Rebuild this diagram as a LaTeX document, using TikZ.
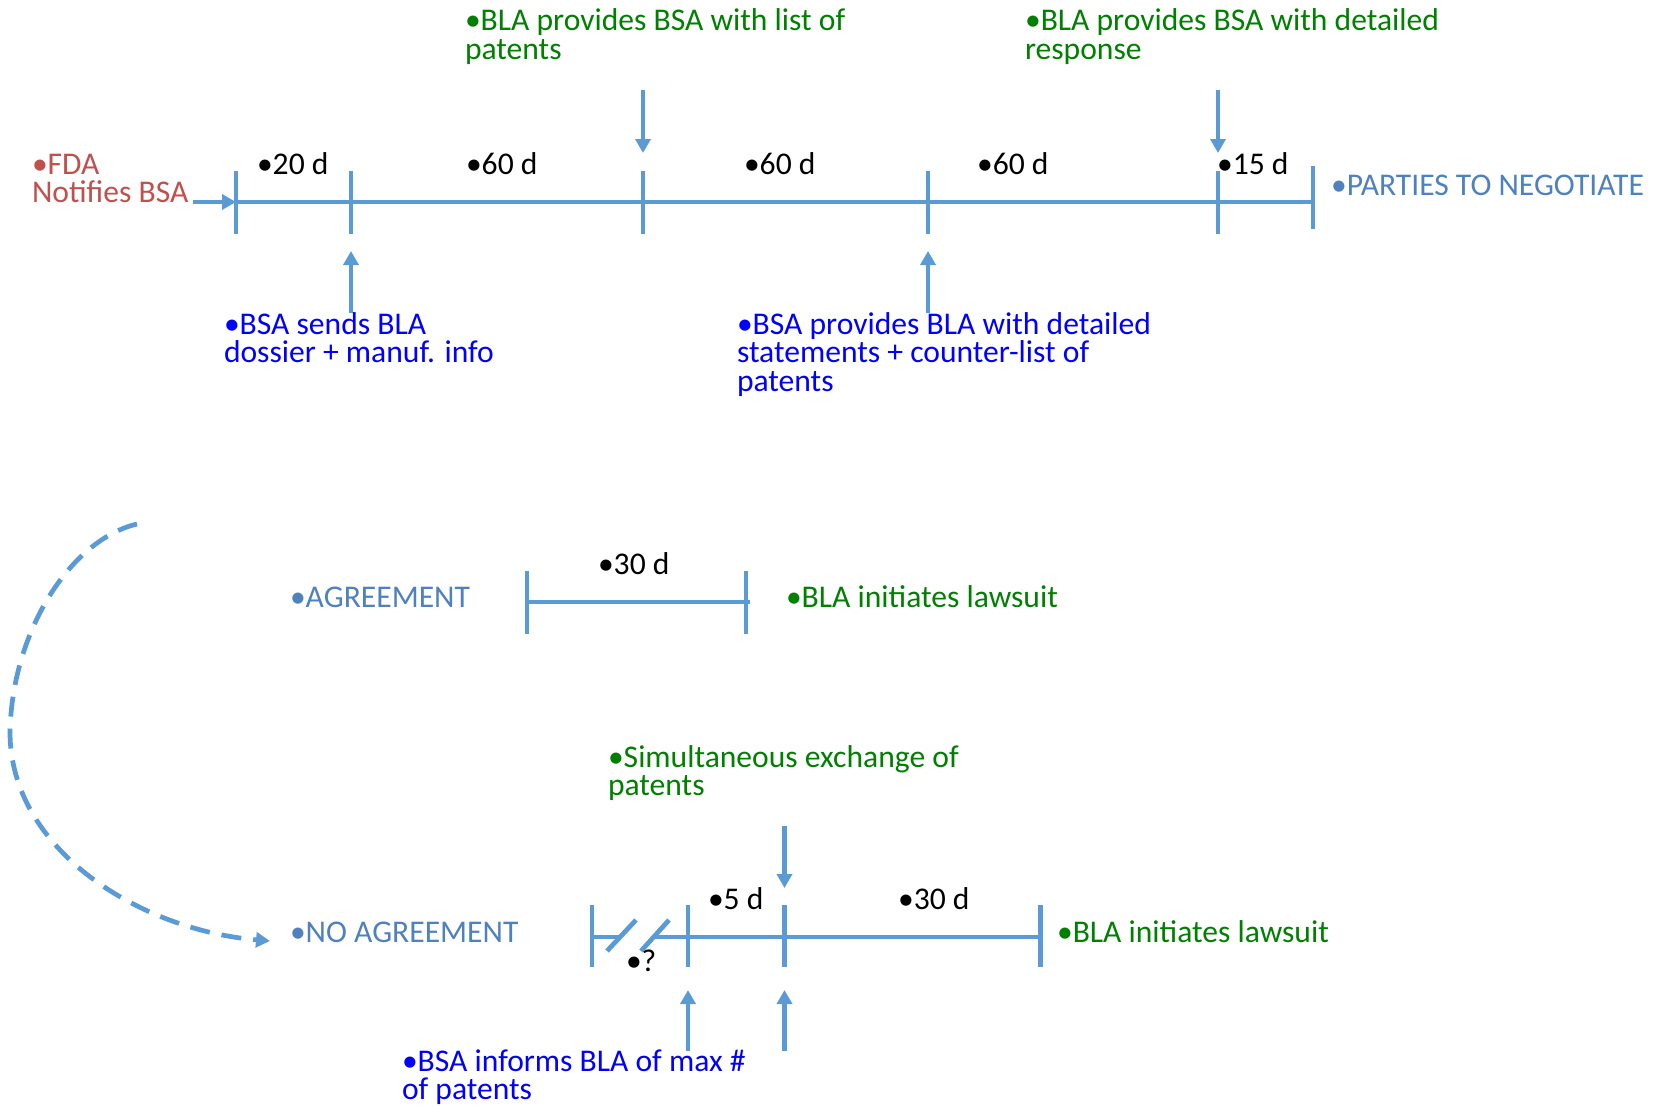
\documentclass[tikz,border=0pt]{standalone}
\usepackage{fontspec}
\setmainfont{Carlito}
\usetikzlibrary{arrows.meta}
\definecolor{lineblue}{HTML}{5B9BD5}
\definecolor{fdared}{HTML}{C0504D}
\definecolor{steel}{HTML}{4F81BD}
\definecolor{dgreen}{HTML}{008000}
\definecolor{pblue}{HTML}{0000FF}
\begin{document}
\begin{tikzpicture}[x=1pt,y=-1pt,
  tl/.style={draw=lineblue, line width=4.75pt},
  arr/.style={tl, -{Triangle[width=15pt,length=14pt]}},
  lbl/.style={anchor=base west, inner sep=0pt, outer sep=0pt, align=left,
    font=\fontsize{31.6}{28.6}\selectfont}]
\useasboundingbox (0,0) rectangle (1661,1105);

% ---------- main timeline ----------
\coordinate (fdaS) at (193,202);
\coordinate (t0) at (236,202);
\coordinate (t1) at (351,202);
\coordinate (t2) at (643,202);
\coordinate (t3) at (928,202);
\coordinate (t4) at (1218,202);
\coordinate (t5) at (1313,202);
\draw[tl] (t0) -- (t5);
\foreach \t in {t0,t1,t2,t3,t4}
  \draw[tl] ([yshift=31pt]\t) -- ([yshift=-32pt]\t);
\draw[tl] ([yshift=36pt]t5) -- ([yshift=-27pt]t5);
\draw[arr] (fdaS) -- (t0);

\coordinate (d1s) at (643,90);  \coordinate (d1e) at (643,153);
\coordinate (d2s) at (1218,90); \coordinate (d2e) at (1218,153);
\coordinate (u1s) at (351,313); \coordinate (u1e) at (351,251);
\coordinate (u2s) at (928,313); \coordinate (u2e) at (928,251);
\draw[arr] (d1s) -- (d1e);
\draw[arr] (d2s) -- (d2e);
\draw[arr] (u1s) -- (u1e);
\draw[arr] (u2s) -- (u2e);

% (base anchor of a multi-line node = baseline of its last line)
\node[lbl, text=fdared] (fda) at (32,202.6) {•FDA\\Notifies BSA};
\node[lbl] (d20) at (257,174) {•20 d};
\node[lbl] (d60a) at (466,174) {•60 d};
\node[lbl] (d60b) at (744,174) {•60 d};
\node[lbl] (d60c) at (977,174) {•60 d};
\node[lbl] (d15) at (1217,174) {•15 d};
\node[lbl, text=steel] (neg) at (1331,195) {•PARTIES TO NEGOTIATE};
\node[lbl, text=dgreen] (g1) at (465,59.6) {•BLA provides BSA with list of\\patents};
\node[lbl, text=dgreen] (g2) at (1025,59.6) {•BLA provides BSA with detailed\\response};
\node[lbl, text=pblue] (b1) at (224,362.6) {•BSA sends BLA\\dossier + manuf. info};
\node[lbl, text=pblue] (b2) at (737,391.2) {•BSA provides BLA with detailed\\statements + counter-list of\\patents};

% ---------- agreement ----------
\coordinate (a0) at (527,602);
\coordinate (a1) at (746,602);
\draw[tl] (a0) -- ([xshift=4pt]a1);
\draw[tl] ([yshift=31pt]a0) -- ([yshift=-32pt]a0);
\draw[tl] ([yshift=31pt]a1) -- ([yshift=-32pt]a1);
\node[lbl, text=steel] (agr) at (290,607) {•AGREEMENT};
\node[lbl] (d30a) at (598,574) {•30 d};
\node[lbl, text=dgreen] (law1) at (786,607) {•BLA initiates lawsuit};

% ---------- dashed loop ----------
\coordinate (c0) at (137,524);
\coordinate (c1) at (270,941);
\draw[tl, dash pattern=on 20pt off 12pt, -{Triangle[width=15pt,length=14pt]}]
  (c0) .. controls (70,540) and (12,632) .. (10,732)
       .. controls (10,850) and (140,930) .. (c1);

% ---------- no agreement timeline ----------
\coordinate (b0) at (592,937);
\coordinate (bk1) at (620,937);
\coordinate (bk2) at (654,937);
\coordinate (bb1) at (688,937);
\coordinate (bb2) at (784.5,937);
\coordinate (bb3) at (1040.6,937);
\draw[tl] (b0) -- (bk1);
\draw[tl] (bk2) -- (bb3);
\coordinate (s1a) at (607,951); \coordinate (s1b) at (636,920);
\coordinate (s2a) at (641,951); \coordinate (s2b) at (669,920);
\draw[tl] (s1a) -- (s1b);
\draw[tl] (s2a) -- (s2b);
\foreach \t in {b0,bb1,bb2,bb3}
  \draw[tl] ([yshift=32pt]\t) -- ([yshift=-30pt]\t);

\coordinate (d3s) at (784.5,826); \coordinate (d3e) at (784.5,888);
\coordinate (u3s) at (688,1051);  \coordinate (u3e) at (688,990);
\coordinate (u4s) at (784.5,1051); \coordinate (u4e) at (784.5,990);
\draw[arr] (d3s) -- (d3e);
\draw[arr] (u3s) -- (u3e);
\draw[arr] (u4s) -- (u4e);

\node[lbl, text=steel] (noagr) at (290,942) {•NO AGREEMENT};
\node[lbl] (q) at (626,971) {•?};
\node[lbl] (d5) at (708,909) {•5 d};
\node[lbl] (d30b) at (898,909) {•30 d};
\node[lbl, text=dgreen] (law2) at (1057,942) {•BLA initiates lawsuit};
\node[lbl, text=dgreen] (sim) at (608,795.6) {•Simultaneous exchange of\\patents};
\node[lbl, text=pblue] (inf) at (402,1099.6) {•BSA informs BLA of max \#\\of patents};
\end{tikzpicture}
\end{document}
